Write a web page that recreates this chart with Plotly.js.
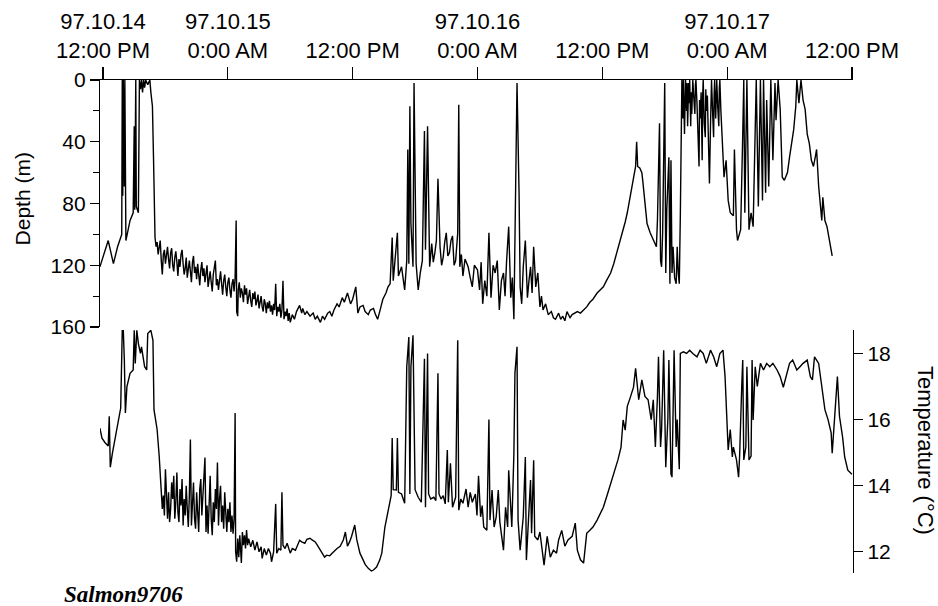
<!DOCTYPE html>
<html>
<head>
<meta charset="utf-8">
<script src="https://cdn.plot.ly/plotly-3.0.1.min.js"></script>
<style>html,body{margin:0;padding:0;background:#fff;}#chart{width:938px;height:606px;}</style>
</head>
<body>
<div id="chart"></div>
<script>
// x values: hours since 97.10.14 12:00 PM
const tickHours = [0, 12, 24, 36, 48, 60, 72];
const tickLabels = ["97.10.14<br>12:00 PM", "97.10.15<br>0:00 AM", "12:00 PM", "97.10.16<br>0:00 AM", "12:00 PM", "97.10.17<br>0:00 AM", "12:00 PM"];
const depthTicks = [0, 40, 80, 120, 160];
const depthMinorTicks = [20, 60, 100, 140];
const tempTicks = [12, 14, 16, 18];

// [hour, depth m]
const depthSeries = [
[-0.3,121],[0.5,104],[1.0,119],[1.4,108],[1.7,102],[1.8,100],[1.85,0],[1.9,75],[1.95,0],[2.05,69],[2.1,0],[2.2,104],[2.6,91],[2.9,86],[3.0,30],[3.05,84],[3.15,0],[3.2,82],[3.4,86],[3.5,0],[3.6,6],[3.7,0],[3.8,8],[3.9,0],[4.0,5],[4.1,0],[4.3,3],[4.5,0],[4.6,8],[4.75,17],[4.85,49],[4.95,89],
[5.0,102],[5.1,108],[5.2,105],[5.3,113],[5.4,109],[5.5,104],[5.6,117],[5.7,126],[5.8,113],[5.9,110],[6.0,119],[6.1,114],[6.2,108],[6.3,116],[6.4,122],[6.5,112],[6.6,109],[6.7,120],[6.8,124],[6.9,115],[7.0,111],[7.1,118],[7.2,127],[7.3,116],[7.4,121],[7.5,113],[7.6,110],[7.7,119],[7.8,126],[7.9,122],[8.0,115],[8.1,128],[8.2,120],[8.3,117],[8.4,124],[8.5,131],[8.6,118],[8.7,114],[8.8,125],[8.9,121],[9.0,129],[9.1,119],[9.2,126],[9.3,133],[9.4,123],[9.5,118],[9.6,127],[9.7,122],[9.8,131],[9.9,125],[10.0,120],[10.1,134],[10.2,128],[10.3,124],[10.4,131],[10.5,137],[10.6,126],[10.7,122],[10.8,117],[10.9,133],[11.0,129],[11.1,136],[11.2,127],[11.3,124],[11.4,132],[11.5,139],[11.6,130],[11.7,126],[11.8,134],[11.9,140],[12.0,131],[12.1,128],[12.2,136],[12.3,141],[12.4,132],[12.5,129],[12.6,137],[12.7,128],[12.8,91],[12.85,150],[12.95,153],[13.0,136],[13.1,131],[13.2,141],[13.3,135],[13.4,138],[13.5,144],[13.6,133],[13.7,139],[13.8,135],[13.9,145],[14.0,140],[14.1,136],[14.2,143],[14.3,147],[14.4,138],[14.5,142],[14.6,137],[14.7,146],[14.8,143],[14.9,139],[15.0,148],[15.1,144],[15.2,140],[15.3,147],[15.4,150],[15.5,142],[15.6,145],[15.7,151],[15.8,144],[15.9,148],[16.0,143],[16.1,150],[16.2,146],[16.3,152],[16.4,145],[16.5,149],[16.6,132],[16.7,153],[16.8,147],[16.9,150],[17.0,145],[17.1,154],[17.2,149],[17.3,130],[17.4,155],[17.5,150],[17.6,153],[17.7,148],[17.8,156],[17.9,151],[18.0,157],
[18.2,152],[18.4,155],[18.6,150],[18.9,146],[19.1,151],[19.2,148],[19.4,152],[19.6,150],[19.9,153],[20.2,151],[20.4,155],[20.6,153],[20.9,157],[21.1,153],[21.3,155],[21.6,151],[21.8,150],[22.0,153],[22.2,149],[22.5,145],[22.7,147],[23.0,141],[23.2,144],[23.5,138],[23.8,145],[24.0,142],[24.3,134],[24.5,151],[24.7,147],[25.0,146],[25.2,150],[25.5,152],[25.7,149],[26.0,148],[26.2,152],[26.4,155],[26.6,150],[26.9,142],[27.2,138],[27.4,134],[27.6,132],[27.8,102],[27.9,130],
[28.3,99],[28.4,127],[28.7,121],[29.0,136],[29.2,117],[29.3,45],[29.4,119],[29.5,17],[29.6,93],[29.8,121],[29.9,2],[30.1,119],[30.3,136],[30.5,125],[30.7,117],[30.9,33],[31.0,110],[31.2,30],[31.4,121],[31.6,106],[31.75,118],[31.9,112],[32.05,104],[32.2,64],[32.4,108],[32.55,120],[32.7,115],[32.85,105],[33.0,99],[33.15,114],[33.3,112],[33.45,104],[33.6,101],[33.75,120],[33.9,117],[34.0,108],[34.1,99],[34.2,16],[34.3,121],[34.45,113],[34.6,127],[34.8,116],[35.1,121],[35.3,128],[35.5,134],[35.7,120],[36.0,123],[36.2,136],[36.35,118],[36.5,145],[36.7,130],[36.9,140],[37.1,99],[37.3,141],[37.5,120],[37.7,125],[37.9,117],[38.1,149],[38.3,130],[38.5,125],[38.65,140],[38.8,117],[39.0,95],[39.2,141],[39.35,128],[39.5,155],[39.7,65],[39.8,2],[40.0,75],[40.1,134],[40.25,145],[40.4,121],[40.6,104],[40.8,141],[40.95,130],[41.1,121],[41.25,138],[41.4,108],[41.6,134],[41.8,125],[42.0,147],[42.15,140],[42.3,149],[42.55,145],[42.8,152],[43.1,150],[43.3,154],[43.5,155],[43.8,151],[44.0,155],[44.2,153],[44.4,156],[44.6,150],[44.9,154],[45.1,152],[45.3,151],[45.6,150],[45.9,151],[46.2,149],[46.5,147],[46.8,144],[47.1,142],[47.5,138],[47.8,136],[48.1,134],[48.4,130],[48.8,125],[49.1,119],[49.4,112],[49.7,105],[49.9,99],[50.2,92],[50.4,86],[50.6,79],[50.9,69],[51.1,62],[51.2,56],[51.3,40],[51.4,56],[51.6,57],[51.8,60],[51.9,66],[52.0,73],[52.1,80],[52.3,93],[52.6,99],[52.9,104],[53.2,108],[53.3,91],[53.5,28],[53.6,117],[53.7,121],[53.8,99],[54.0,2],[54.1,125],[54.2,84],[54.4,50],[54.5,132],[54.6,52],[54.7,125],[54.8,108],[54.95,128],[55.1,132],[55.2,108],[55.3,125],[55.4,132],
[55.5,88],[55.6,19],[55.65,0],[55.75,25],[55.8,0],[55.9,35],[55.95,5],[56.0,0],[56.1,20],[56.15,2],[56.2,30],[56.3,2],[56.35,15],[56.4,0],[56.5,30],[56.55,8],[56.6,22],[56.7,0],[56.8,12],[56.9,22],[56.95,3],[57.0,0],[57.1,15],[57.2,40],[57.3,56],[57.35,13],[57.4,25],[57.5,8],[57.6,52],[57.65,10],[57.7,0],[57.8,28],[57.9,37],[57.95,6],[58.0,20],[58.1,10],[58.2,45],[58.3,67],[58.4,30],[58.45,13],[58.5,0],[58.6,20],[58.7,37],[58.75,10],[58.8,0],[58.9,25],[59.0,0],[59.1,18],[59.2,30],[59.25,5],[59.3,0],[59.4,20],[59.5,35],
[59.7,63],[59.9,52],[60.1,78],[60.3,86],[60.6,88],[60.7,45],[60.9,97],[61.0,104],[61.3,97],[61.5,35],[61.6,0],[61.7,86],[61.9,0],[62.1,97],[62.3,86],[62.5,95],[62.7,35],[62.8,0],[63.0,82],[63.2,0],[63.4,78],[63.5,0],[63.7,73],[63.8,13],[64.0,69],[64.2,0],[64.4,52],[64.6,2],[64.7,26],[64.9,0],[65.1,19],[65.3,63],[65.5,65],[65.8,60],[66.0,50],[66.2,41],[66.4,32],[66.6,17],[66.7,0],[66.9,15],[67.1,0],[67.3,13],[67.5,19],[67.7,35],[67.9,41],[68.1,52],[68.3,56],[68.5,49],[68.6,45],[68.8,69],[68.9,78],[69.1,91],[69.2,76],[69.4,91],[69.6,95],[69.8,102],[70.1,114]
];

// [hour, temperature °C]
const tempSeries = [
[-0.3,15.74],[-0.1,15.44],[0.2,15.3],[0.5,15.2],[0.6,16.1],[0.7,14.56],[0.9,14.98],[1.2,15.47],[1.4,15.9],[1.7,16.35],[1.85,18.7],[1.95,18.7],[2.05,17.8],[2.15,16.2],[2.3,17.0],[2.6,17.4],[2.9,17.5],[3.0,18.7],[3.1,17.7],[3.25,18.7],[3.4,18.3],[3.6,18.0],[3.7,18.2],[4.0,17.6],[4.2,17.5],[4.3,18.6],[4.6,18.7],[4.8,18.4],[4.9,16.3],[5.2,15.7],
[5.4,14.9],[5.5,14.3],[5.6,13.6],[5.7,13.3],[5.8,13.7],[5.9,13.1],[6.0,14.5],[6.1,13.4],[6.2,13.0],[6.3,13.8],[6.4,12.9],[6.5,13.3],[6.6,14.1],[6.7,13.6],[6.8,14.3],[6.9,13.0],[7.0,13.5],[7.1,14.4],[7.2,13.2],[7.3,12.9],[7.4,13.9],[7.5,13.4],[7.6,14.2],[7.7,12.8],[7.8,13.6],[7.9,13.1],[8.0,14.0],[8.1,13.3],[8.2,12.75],[8.3,13.7],[8.4,15.4],[8.5,12.8],[8.6,13.5],[8.7,14.1],[8.8,13.0],[8.9,12.7],[9.0,13.8],[9.1,13.2],[9.2,12.6],[9.3,13.9],[9.4,14.2],[9.5,13.1],[9.6,13.6],[9.7,14.3],[9.8,14.85],[9.9,12.6],[10.0,13.4],[10.1,12.55],[10.2,13.9],[10.3,14.3],[10.4,13.0],[10.5,12.5],[10.6,13.5],[10.7,12.9],[10.8,13.9],[10.9,13.3],[11.0,14.7],[11.1,12.8],[11.2,13.6],[11.3,14.0],[11.4,12.9],[11.5,13.4],[11.6,12.7],[11.7,13.8],[11.8,13.2],[11.9,12.6],[12.0,13.3],[12.1,12.9],[12.2,13.5],[12.3,12.6],[12.4,13.1],[12.5,12.55],[12.6,13.0],[12.7,16.2],[12.75,12.0],[12.85,11.7],[12.95,12.4],[13.05,11.84],[13.15,12.5],[13.3,11.66],[13.4,12.6],[13.5,12.2],[13.6,12.5],[13.7,12.1],[13.8,12.66],[13.9,12.2],[14.0,12.4],[14.2,12.15],[14.4,12.35],[14.6,12.05],[14.8,12.3],[15.0,12.0],[15.2,12.15],[15.3,11.8],[15.5,12.1],[15.7,11.9],[15.9,12.1],[16.1,11.95],[16.2,11.7],[16.4,12.0],[16.6,13.45],[16.7,11.96],[16.9,12.1],[17.1,12.05],[17.2,13.8],[17.3,12.2],[17.5,12.1],[17.7,12.26],
[18.0,11.96],[18.2,12.1],[18.5,12.05],[18.7,12.2],[18.9,12.35],[19.1,12.3],[19.4,12.26],[19.6,12.38],[19.9,12.41],[20.1,12.36],[20.4,12.3],[20.6,12.2],[20.9,12.05],[21.1,11.95],[21.3,11.84],[21.5,11.9],[21.8,11.88],[22.0,11.95],[22.3,12.05],[22.5,12.1],[22.8,12.17],[23.1,12.36],[23.3,12.6],[23.5,12.17],[23.7,12.3],[23.9,12.47],[24.2,12.81],[24.4,12.36],[24.7,11.96],[25.0,11.76],[25.2,11.62],[25.5,11.5],[25.8,11.42],[26.0,11.45],[26.3,11.54],[26.6,11.75],[26.8,11.96],[27.1,12.75],[27.4,13.26],[27.7,13.7],[27.8,15.44],[27.9,13.88],[28.2,13.87],[28.3,15.44],[28.4,13.8],[28.7,13.75],[29.0,13.47],[29.2,17.6],[29.4,18.5],[29.5,13.75],[29.6,17.6],[29.8,18.55],[30.0,13.88],[30.3,13.65],[30.6,13.5],[30.9,17.84],[31.0,13.35],[31.2,18.0],[31.3,13.75],[31.5,13.6],[31.8,13.65],[32.0,13.55],[32.2,17.4],[32.3,13.75],[32.5,13.6],[32.7,13.7],[32.9,13.45],[33.1,15.08],[33.2,13.5],[33.4,14.68],[33.6,13.35],[33.9,13.65],[34.0,16.1],[34.1,18.4],[34.2,13.26],[34.4,13.6],[34.6,13.47],[34.9,13.9],[35.1,13.35],[35.3,13.8],[35.5,13.5],[35.8,13.75],[35.95,13.1],[36.1,14.3],[36.3,13.06],[36.45,13.4],[36.6,12.75],[36.9,12.65],[37.1,16.0],[37.2,12.96],[37.4,13.87],[37.6,12.75],[37.8,13.06],[38.0,13.87],[38.15,12.9],[38.3,12.56],[38.5,12.05],[38.7,13.35],[38.9,12.75],[39.0,14.47],[39.3,12.75],[39.5,14.98],[39.6,17.4],[39.8,18.2],[39.9,12.96],[40.1,12.05],[40.4,13.06],[40.6,14.87],[40.7,11.75],[40.9,12.96],[41.1,14.17],[41.2,12.56],[41.4,14.77],[41.5,12.47],[41.8,12.36],[42.0,12.6],[42.2,12.17],[42.4,11.6],[42.7,12.47],[43.0,11.84],[43.3,12.05],[43.6,11.96],[43.8,12.36],[44.1,12.65],[44.4,12.17],[44.7,12.36],[45.1,12.47],[45.4,12.87],[45.6,12.05],[45.9,11.76],[46.2,11.66],[46.5,12.56],[46.8,12.65],[47.1,12.75],[47.5,12.96],[47.8,13.16],[48.1,13.35],[48.5,13.75],[48.8,14.05],[49.2,14.47],[49.5,14.78],[49.8,15.17],[50.0,15.99],[50.2,15.68],[50.4,16.4],[50.7,16.68],[51.0,16.98],[51.2,17.55],[51.5,16.6],[51.8,17.2],[52.1,16.7],[52.4,16.6],[52.7,16.0],[52.9,16.6],[53.1,15.17],[53.3,16.7],[53.4,17.9],[53.6,15.17],[53.7,15.7],[53.9,18.1],[54.1,14.56],[54.3,16.0],[54.4,17.8],[54.6,14.35],[54.7,14.26],[54.9,18.1],[55.1,15.17],[55.2,16.0],[55.4,14.5],[55.5,18.0],[55.8,18.05],[56.1,18.0],[56.4,18.1],[56.7,18.0],[57.1,17.9],[57.4,18.1],[57.7,18.0],[58.0,17.7],[58.4,18.1],[58.7,17.9],[59.0,17.6],[59.3,18.0],[59.6,18.1],[59.8,17.3],[60.0,16.1],[60.1,15.08],[60.3,15.7],[60.5,14.87],[60.6,15.17],[60.9,14.78],[61.1,14.26],[61.2,14.9],[61.4,16.98],[61.5,17.8],[61.6,14.78],[61.8,15.17],[61.9,17.6],[62.1,14.78],[62.3,14.9],[62.4,17.8],[62.5,15.99],[62.7,17.6],[62.9,17.0],[63.2,17.7],[63.5,17.5],[63.8,17.7],[64.1,17.6],[64.4,17.7],[64.8,17.5],[65.1,17.3],[65.4,16.98],[65.7,17.3],[66.0,17.7],[66.3,17.8],[66.7,17.5],[67.0,17.6],[67.3,17.7],[67.7,17.8],[68.0,17.3],[68.2,17.2],[68.4,17.9],[68.8,17.7],[69.1,16.98],[69.4,16.3],[69.7,16.0],[70.0,15.6],[70.1,14.98],[70.3,15.99],[70.6,17.3],[70.8,16.1],[71.1,15.47],[71.3,14.87],[71.6,14.47],[72.0,14.35]
];

const FONT = 'Liberation Sans, Arial, Helvetica, sans-serif';
const traces = [
  {x: depthSeries.map(p => p[0]), y: depthSeries.map(p => p[1]), xaxis: 'x', yaxis: 'y', type: 'scatter', mode: 'lines',
   line: {color: '#000', width: 1.4}, hoverinfo: 'skip', showlegend: false},
  {x: tempSeries.map(p => p[0]), y: tempSeries.map(p => p[1]), xaxis: 'x', yaxis: 'y2', type: 'scatter', mode: 'lines',
   line: {color: '#000', width: 1.4}, hoverinfo: 'skip', showlegend: false}
];

const layout = {
  width: 938, height: 606,
  margin: {l: 100, r: 85, t: 80, b: 33},
  paper_bgcolor: '#fff', plot_bgcolor: 'rgba(0,0,0,0)',
  font: {family: FONT, color: '#000', size: 21},
  showlegend: false,
  xaxis: {
    range: [-0.29, 72.1], side: 'top', anchor: 'y',
    tickmode: 'array', tickvals: tickHours, ticktext: tickLabels,
    ticks: 'outside', ticklen: 12, tickwidth: 1.2, tickcolor: '#000',
    showline: true, linewidth: 1.2, linecolor: '#000',
    showgrid: false, zeroline: false,
    tickfont: {family: FONT, size: 22, color: '#000'},
    ticklabelstandoff: 0
  },
  yaxis: {
    domain: [0.499, 1], range: [160, 0], anchor: 'x',
    tickmode: 'array', tickvals: depthTicks,
    ticks: 'outside', ticklen: 9, tickwidth: 1.2, tickcolor: '#000',
    minor: {tickmode: 'array', tickvals: depthMinorTicks, ticks: 'outside', ticklen: 6, tickwidth: 1.2, tickcolor: '#000', showgrid: false},
    showline: true, linewidth: 1.2, linecolor: '#000',
    showgrid: false, zeroline: false,
    tickfont: {family: FONT, size: 21, color: '#000'}
  },
  yaxis2: {
    domain: [0, 0.4929], range: [11.36, 18.71], anchor: 'x', side: 'right',
    tickmode: 'array', tickvals: tempTicks,
    ticks: 'outside', ticklen: 9, tickwidth: 1.2, tickcolor: '#000',
    showline: true, linewidth: 1.2, linecolor: '#000',
    showgrid: false, zeroline: false,
    tickfont: {family: FONT, size: 21, color: '#000'}
  },
  annotations: [
    {text: 'Depth (m)', xref: 'paper', yref: 'paper', x: -0.103, y: 0.7586,
     xanchor: 'center', yanchor: 'middle', textangle: -90, showarrow: false,
     font: {family: FONT, size: 21, color: '#000'}},
    {text: 'Temperature (°C)', xref: 'paper', yref: 'paper', x: 1.0956, y: 0.2475,
     xanchor: 'center', yanchor: 'middle', textangle: 90, showarrow: false,
     font: {family: FONT, size: 22, color: '#000'}},
    {text: '<b><i>Salmon9706</i></b>', xref: 'paper', yref: 'paper', x: -0.051, y: -0.0446,
     xanchor: 'left', yanchor: 'middle', showarrow: false,
     font: {family: 'Liberation Serif, Times New Roman, serif', size: 23, color: '#000'}}
  ]
};

Plotly.newPlot('chart', traces, layout, {staticPlot: true, displayModeBar: false});
</script>
</body>
</html>
